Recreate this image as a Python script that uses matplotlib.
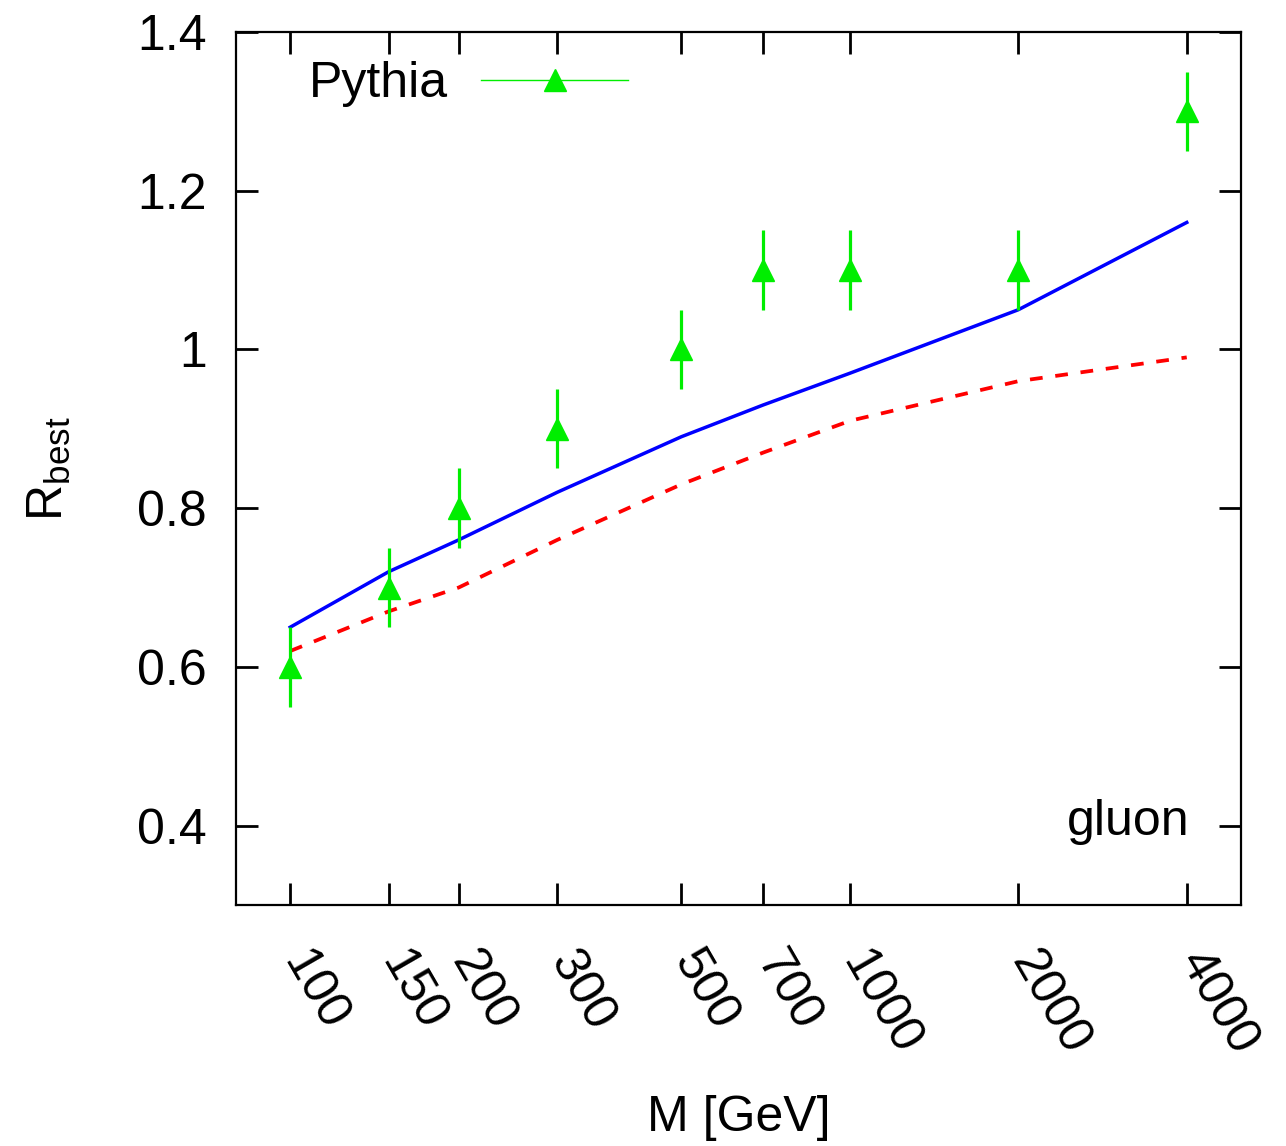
import matplotlib
matplotlib.use("Agg")
import matplotlib.pyplot as plt
from matplotlib.lines import Line2D
from matplotlib.ticker import NullLocator
import matplotlib.transforms as mtransforms

plt.rcParams['font.family'] = ['Liberation Sans', 'DejaVu Sans']
plt.rcParams['mathtext.fontset'] = 'custom'
plt.rcParams['mathtext.rm'] = 'Liberation Sans'

# Resonance mass points [GeV]
mass = [100, 150, 200, 300, 500, 700, 1000, 2000, 4000]
mass_labels = ['100', '150', '200', '300', '500', '700', '1000', '2000', '4000']

# Analytic estimates of the best radius
r_solid = [0.65, 0.72, 0.76, 0.82, 0.89, 0.93, 0.97, 1.05, 1.16]
r_dashed = [0.62, 0.67, 0.70, 0.76, 0.83, 0.87, 0.91, 0.96, 0.99]

# Pythia results with uncertainties
r_pythia = [0.60, 0.70, 0.80, 0.90, 1.00, 1.10, 1.10, 1.10, 1.30]
r_pythia_err = [0.05, 0.05, 0.05, 0.05, 0.05, 0.05, 0.05, 0.05, 0.05]

y_ticks = [0.4, 0.6, 0.8, 1.0, 1.2, 1.4]
y_tick_labels = ['0.4', '0.6', '0.8', '1', '1.2', '1.4']

green = '#00ee00'
fs = 36

fig = plt.figure(figsize=(12.86, 11.46), dpi=100)
ax = fig.add_axes([0.1835, 0.2103, 0.7815, 0.7618])

ax.plot(mass, r_solid, color='#0000ff', lw=2.5, zorder=3)
ax.plot(mass, r_dashed, color='#ff0000', lw=2.7, dashes=(3.4, 3.4), zorder=3)
ax.errorbar(mass, r_pythia, yerr=r_pythia_err, fmt='^', color=green,
            ms=16, elinewidth=2.3, capsize=0, zorder=4)

ax.set_xscale('log')
ax.set_xlim(80, 5000)
ax.set_ylim(0.3, 1.4)
ax.set_xticks(mass)
ax.set_xticklabels(mass_labels)
ax.xaxis.set_minor_locator(NullLocator())
ax.set_yticks(y_ticks)
ax.set_yticklabels(y_tick_labels)

ax.tick_params(which='major', direction='in', length=16, width=2,
               top=True, right=True, labelsize=fs)
ax.tick_params(axis='y', pad=21)
ax.tick_params(axis='x', pad=36)
for sp in ax.spines.values():
    sp.set_linewidth(1.6)

offset = mtransforms.ScaledTranslation(3 / 100, 0, fig.dpi_scale_trans)
for lab in ax.get_xticklabels():
    lab.set_rotation(-60)
    lab.set_rotation_mode('anchor')
    lab.set_ha('left')
    lab.set_va('center')
    lab.set_transform(lab.get_transform() + offset)

ax.set_xlabel('M [GeV]', fontsize=fs, labelpad=23)
ax.set_ylabel(r'$\mathregular{R_{best}}$', fontsize=fs, labelpad=46)

ax.text(0.949, 0.405, 'gluon', fontsize=fs, ha='right', va='center',
        transform=mtransforms.blended_transform_factory(ax.transAxes, ax.transData))

handle = Line2D([], [], color=green, lw=1.0, marker='^', ms=16)
ax.legend([handle], ['Pythia'], loc='center left', bbox_to_anchor=(0.073, 0.940),
          frameon=False, markerfirst=False, handlelength=2.94, handletextpad=0.66,
          borderpad=0, borderaxespad=0, fontsize=fs, numpoints=1)

fig.savefig('out.png', dpi=100)
